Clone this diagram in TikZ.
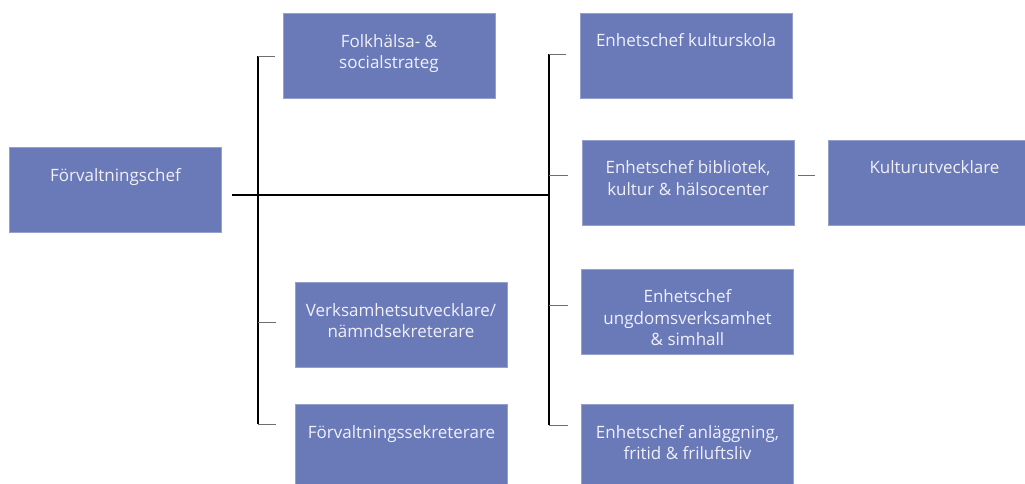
\documentclass[tikz,border=0pt]{standalone}
\usepackage{fontspec}
\setmainfont{Open Sans}
\definecolor{boxblue}{RGB}{106,122,185}
\definecolor{boxedge}{RGB}{150,160,205}
\definecolor{txt}{RGB}{240,240,246}
\definecolor{stubgray}{RGB}{110,110,110}
\tikzset{
  orgbox/.style={draw=boxedge, line width=0.8pt, fill=boxblue, minimum width=212pt, minimum height=85pt, inner sep=0pt},
  lbl/.style={anchor=north, inner sep=0pt, align=center, text=txt, font=\fontsize{17}{21.5}\selectfont, yshift=-21pt},
  mainline/.style={draw=black, line width=1.3pt},
  stub/.style={draw=stubgray, line width=0.9pt},
}
\begin{document}
\begin{tikzpicture}[x=1pt,y=-1pt]
\useasboundingbox (0,0) rectangle (1025,484);
% boxes
\node[orgbox, label={[lbl]north:Förvaltningschef}] (chef) at (115.5,190) {};
\node[orgbox, label={[lbl]north:Folkhälsa- \&\\socialstrateg}] (folk) at (389,56) {};
\node[orgbox, label={[lbl]north:Verksamhetsutvecklare/\\nämndsekreterare}] (verk) at (401,325) {};
\node[orgbox, label={[lbl]north:Förvaltningssekreterare}] (fsek) at (401.5,447) {};
\node[orgbox, label={[lbl]north:Enhetschef kulturskola}] (skola) at (686,55.5) {};
\node[orgbox, label={[lbl]north:Enhetschef bibliotek,\\kultur \& hälsocenter}] (bibl) at (688,182.5) {};
\node[orgbox, label={[lbl]north:Kulturutvecklare}] (kutv) at (934.5,182.5) {};
\node[orgbox, label={[lbl]north:Enhetschef\\ungdomsverksamhet\\\& simhall}] (ungd) at (687.5,311.5) {};
\node[orgbox, label={[lbl]north:Enhetschef anläggning,\\fritid \& friluftsliv}] (anl) at (687.5,447) {};
% junction coordinates
\coordinate (hstart) at (232,195);
\coordinate (L) at (258,195);
\coordinate (R) at (549,195);
\coordinate (Ltop) at (258,56);
\coordinate (Lbot) at (258,424);
\coordinate (Rtop) at (549,54);
\coordinate (Rbot) at (549,425);
\coordinate (Lverk) at (258,322);
\coordinate (Rbibl) at (549,175);
\coordinate (Rungd) at (549,305);
\coordinate (Bk) at (798,175);
% main lines
\draw[mainline] (hstart) -- (R);
\draw[mainline] (Ltop) -- (Lbot);
\draw[mainline] (Rtop) -- (Rbot);
% stubs left
\draw[stub] (Ltop) -- ([xshift=-8pt]folk.west |- Ltop);
\draw[stub] (Lverk) -- ([xshift=-19pt]verk.west |- Lverk);
\draw[stub] (Lbot) -- ([xshift=-19pt]fsek.west |- Lbot);
% stubs right
\draw[stub] (Rtop) -- ([xshift=-14pt]skola.west |- Rtop);
\draw[stub] (Rbibl) -- ([xshift=-14pt]bibl.west |- Rbibl);
\draw[stub] (Rungd) -- ([xshift=-13pt]ungd.west |- Rungd);
\draw[stub] (Rbot) -- ([xshift=-13pt]anl.west |- Rbot);
% bibl -- kulturutvecklare
\draw[stub] (Bk) -- ([xshift=-13pt]kutv.west |- Bk);
\end{tikzpicture}
\end{document}
